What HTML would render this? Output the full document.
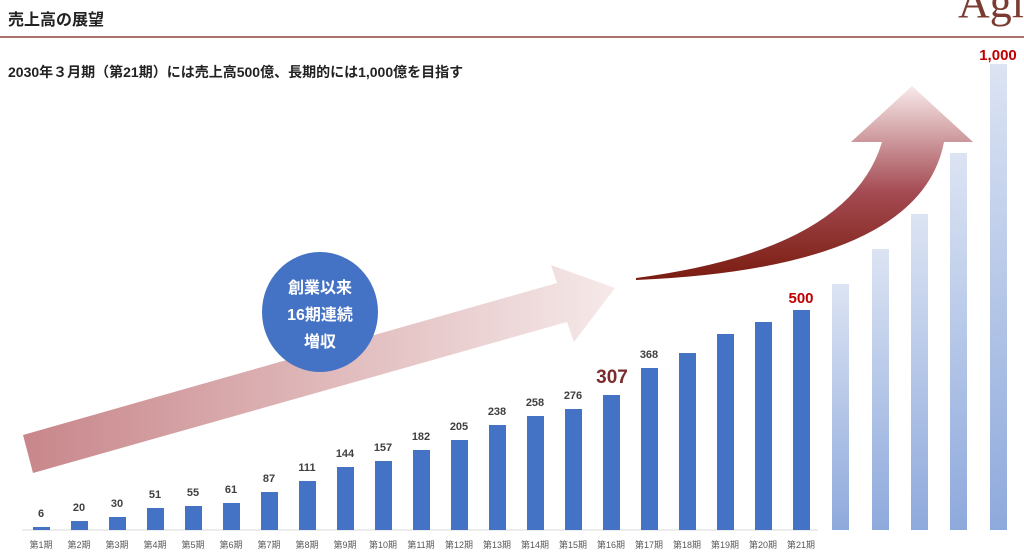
<!DOCTYPE html>
<html><head><meta charset="utf-8"><style>
html,body{margin:0;padding:0;background:#fff;}
body{width:1024px;height:552px;overflow:hidden;position:relative;font-family:"Liberation Sans","Noto Sans CJK JP",sans-serif;}
svg{position:absolute;left:0;top:0;}
</style></head><body>
<svg width="1024" height="552" viewBox="0 0 1024 552" xmlns="http://www.w3.org/2000/svg">
<defs>
<linearGradient id="a1" x1="0" y1="0" x2="1" y2="0">
<stop offset="0" stop-color="#c8868a"/><stop offset="1" stop-color="#f6e9e9"/>
</linearGradient>
<linearGradient id="a2" x1="0" y1="1" x2="0" y2="0">
<stop offset="0" stop-color="#7a1c10"/><stop offset="0.45" stop-color="#a44a52"/><stop offset="1" stop-color="#f8eaea"/>
</linearGradient>
<linearGradient id="fb" x1="0" y1="0" x2="0" y2="1">
<stop offset="0" stop-color="#dce4f3"/><stop offset="1" stop-color="#8ea9dc"/>
</linearGradient>
</defs>
<text x="8" y="25" font-size="16" font-weight="bold" fill="#222" font-family="Liberation Sans,Noto Sans CJK JP,sans-serif">売上高の展望</text>
<text x="958" y="17" font-size="44" fill="#7b3b30" font-family="Liberation Serif,serif">Agi</text>
<rect x="0" y="36" width="1024" height="2" fill="#a8736c"/>
<text x="8" y="77" font-size="14" font-weight="bold" fill="#222" font-family="Liberation Sans,Noto Sans CJK JP,sans-serif">2030年３月期（第21期）には売上高500億、長期的には1,000億を目指す</text>

<polygon points="23,435 557,283 551,265 615,288 574,342 567,322 33,473" fill="url(#a1)"/>
<path d="M636,278 Q850,250 882,142 L851,142 L912,86 L973,142 L944,142 Q920,268 636,280 Z" fill="url(#a2)"/>

<ellipse cx="320" cy="312" rx="58" ry="60" fill="#4472c4"/>
<g font-size="16" font-weight="bold" fill="#fff" text-anchor="middle" font-family="Liberation Sans,Noto Sans CJK JP,sans-serif">
<text x="320" y="293">創業以来</text><text x="320" y="320">16期連続</text><text x="320" y="347">増収</text>
</g>

<line x1="22" y1="530" x2="818" y2="530" stroke="#d9d9d9" stroke-width="1"/>
<g fill="url(#fb)">
<rect x="832" y="284" width="17" height="246"/>
<rect x="872" y="249" width="17" height="281"/>
<rect x="911" y="214" width="17" height="316"/>
<rect x="950" y="153" width="17" height="377"/>
<rect x="990" y="64" width="17" height="466"/>
</g>
<text x="998" y="60" font-size="15" font-weight="bold" fill="#c00000" text-anchor="middle">1,000</text>
<g fill="#4472c4">
<rect x="33" y="527" width="17" height="3"/>
<rect x="71" y="521" width="17" height="9"/>
<rect x="109" y="517" width="17" height="13"/>
<rect x="147" y="508" width="17" height="22"/>
<rect x="185" y="506" width="17" height="24"/>
<rect x="223" y="503" width="17" height="27"/>
<rect x="261" y="492" width="17" height="38"/>
<rect x="299" y="481" width="17" height="49"/>
<rect x="337" y="467" width="17" height="63"/>
<rect x="375" y="461" width="17" height="69"/>
<rect x="413" y="450" width="17" height="80"/>
<rect x="451" y="440" width="17" height="90"/>
<rect x="489" y="425" width="17" height="105"/>
<rect x="527" y="416" width="17" height="114"/>
<rect x="565" y="409" width="17" height="121"/>
<rect x="603" y="395" width="17" height="135"/>
<rect x="641" y="368" width="17" height="162"/>
<rect x="679" y="353" width="17" height="177"/>
<rect x="717" y="334" width="17" height="196"/>
<rect x="755" y="322" width="17" height="208"/>
<rect x="793" y="310" width="17" height="220"/>
</g>
<g font-size="11" font-weight="bold" fill="#404040" text-anchor="middle">
<text x="41" y="517">6</text><text x="79" y="511">20</text><text x="117" y="507">30</text>
<text x="155" y="498">51</text><text x="193" y="496">55</text><text x="231" y="493">61</text>
<text x="269" y="482">87</text><text x="307" y="471">111</text><text x="345" y="457">144</text>
<text x="383" y="451">157</text><text x="421" y="440">182</text><text x="459" y="430">205</text>
<text x="497" y="415">238</text><text x="535" y="406">258</text><text x="573" y="399">276</text>
<text x="649" y="358">368</text>
</g>
<text x="612" y="383" font-size="19" font-weight="bold" fill="#7b2c2c" text-anchor="middle">307</text>
<text x="801" y="303" font-size="15" font-weight="bold" fill="#c00000" text-anchor="middle">500</text>
<g font-size="9" fill="#595959" text-anchor="middle" font-family="Liberation Sans,Noto Sans CJK JP,sans-serif">
<text x="41" y="548">第1期</text><text x="79" y="548">第2期</text><text x="117" y="548">第3期</text>
<text x="155" y="548">第4期</text><text x="193" y="548">第5期</text><text x="231" y="548">第6期</text>
<text x="269" y="548">第7期</text><text x="307" y="548">第8期</text><text x="345" y="548">第9期</text>
<text x="383" y="548">第10期</text><text x="421" y="548">第11期</text><text x="459" y="548">第12期</text>
<text x="497" y="548">第13期</text><text x="535" y="548">第14期</text><text x="573" y="548">第15期</text>
<text x="611" y="548">第16期</text><text x="649" y="548">第17期</text><text x="687" y="548">第18期</text>
<text x="725" y="548">第19期</text><text x="763" y="548">第20期</text><text x="801" y="548">第21期</text>
</g>
</svg>
</body></html>
